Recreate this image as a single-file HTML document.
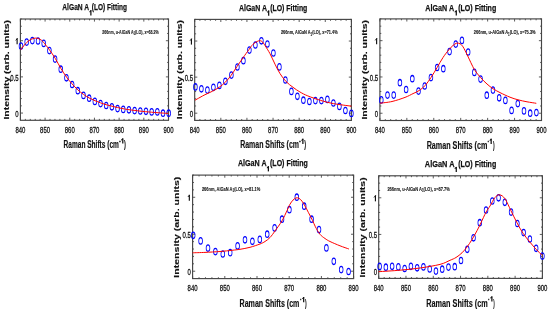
<!DOCTYPE html>
<html><head><meta charset="utf-8"><style>
html,body{margin:0;padding:0;background:#fff;}
body{width:550px;height:312px;overflow:hidden;}
svg{display:block;font-family:"Liberation Sans",sans-serif;will-change:transform;}
</style></head><body>
<svg width="550" height="312" viewBox="0 0 550 312" xmlns="http://www.w3.org/2000/svg">
<defs><filter id="bl" x="0" y="0" width="550" height="312" filterUnits="userSpaceOnUse"><feConvolveMatrix order="3" kernelMatrix="0.0400 0.1200 0.0400 0.1200 0.3600 0.1200 0.0400 0.1200 0.0400" edgeMode="duplicate"/></filter></defs>
<rect width="550" height="312" fill="#fff"/>
<g>
<path d="M20.4 120.3v-2.6M20.4 19v2.6M25.34 120.3v-1.4M25.34 19v1.4M30.27 120.3v-1.4M30.27 19v1.4M35.21 120.3v-1.4M35.21 19v1.4M40.15 120.3v-1.4M40.15 19v1.4M45.08 120.3v-2.6M45.08 19v2.6M50.02 120.3v-1.4M50.02 19v1.4M54.96 120.3v-1.4M54.96 19v1.4M59.89 120.3v-1.4M59.89 19v1.4M64.83 120.3v-1.4M64.83 19v1.4M69.77 120.3v-2.6M69.77 19v2.6M74.7 120.3v-1.4M74.7 19v1.4M79.64 120.3v-1.4M79.64 19v1.4M84.58 120.3v-1.4M84.58 19v1.4M89.51 120.3v-1.4M89.51 19v1.4M94.45 120.3v-2.6M94.45 19v2.6M99.39 120.3v-1.4M99.39 19v1.4M104.32 120.3v-1.4M104.32 19v1.4M109.26 120.3v-1.4M109.26 19v1.4M114.2 120.3v-1.4M114.2 19v1.4M119.13 120.3v-2.6M119.13 19v2.6M124.07 120.3v-1.4M124.07 19v1.4M129.01 120.3v-1.4M129.01 19v1.4M133.94 120.3v-1.4M133.94 19v1.4M138.88 120.3v-1.4M138.88 19v1.4M143.82 120.3v-2.6M143.82 19v2.6M148.75 120.3v-1.4M148.75 19v1.4M153.69 120.3v-1.4M153.69 19v1.4M158.63 120.3v-1.4M158.63 19v1.4M163.56 120.3v-1.4M163.56 19v1.4M168.5 120.3v-2.6M168.5 19v2.6M20.4 113.06h2.6M168.5 113.06h-2.6M20.4 105.83h1.4M168.5 105.83h-1.4M20.4 98.59h1.4M168.5 98.59h-1.4M20.4 91.36h1.4M168.5 91.36h-1.4M20.4 84.12h1.4M168.5 84.12h-1.4M20.4 76.89h2.6M168.5 76.89h-2.6M20.4 69.65h1.4M168.5 69.65h-1.4M20.4 62.41h1.4M168.5 62.41h-1.4M20.4 55.18h1.4M168.5 55.18h-1.4M20.4 47.94h1.4M168.5 47.94h-1.4M20.4 40.71h2.6M168.5 40.71h-2.6M20.4 33.47h1.4M168.5 33.47h-1.4M20.4 26.24h1.4M168.5 26.24h-1.4M20.4 19h1.4M168.5 19h-1.4" stroke="#333" stroke-width="0.8" fill="none"/>
<rect x="20.4" y="19" width="148.1" height="101.3" fill="none" stroke="#454545" stroke-width="1.15"/>
<g fill="none" stroke="#0000ff" stroke-width="1.3">
<circle r="3.2" transform="translate(21 46) scale(0.58 1)"/>
<circle r="3.2" transform="translate(26.68 42.1) scale(0.58 1)"/>
<circle r="3.2" transform="translate(32.36 40.6) scale(0.58 1)"/>
<circle r="3.2" transform="translate(38.04 41) scale(0.58 1)"/>
<circle r="3.2" transform="translate(43.72 43.4) scale(0.58 1)"/>
<circle r="3.2" transform="translate(49.4 50.6) scale(0.58 1)"/>
<circle r="3.2" transform="translate(55.08 59.1) scale(0.58 1)"/>
<circle r="3.2" transform="translate(60.77 69.2) scale(0.58 1)"/>
<circle r="3.2" transform="translate(66.45 77.8) scale(0.58 1)"/>
<circle r="3.2" transform="translate(72.13 84.5) scale(0.58 1)"/>
<circle r="3.2" transform="translate(77.81 90.7) scale(0.58 1)"/>
<circle r="3.2" transform="translate(83.49 95.4) scale(0.58 1)"/>
<circle r="3.2" transform="translate(89.17 98.2) scale(0.58 1)"/>
<circle r="3.2" transform="translate(94.85 101.4) scale(0.58 1)"/>
<circle r="3.2" transform="translate(100.53 103.6) scale(0.58 1)"/>
<circle r="3.2" transform="translate(106.21 105.5) scale(0.58 1)"/>
<circle r="3.2" transform="translate(111.89 106.8) scale(0.58 1)"/>
<circle r="3.2" transform="translate(117.57 108.6) scale(0.58 1)"/>
<circle r="3.2" transform="translate(123.25 109.4) scale(0.58 1)"/>
<circle r="3.2" transform="translate(128.93 109.8) scale(0.58 1)"/>
<circle r="3.2" transform="translate(134.62 110.6) scale(0.58 1)"/>
<circle r="3.2" transform="translate(140.3 111) scale(0.58 1)"/>
<circle r="3.2" transform="translate(145.98 111.3) scale(0.58 1)"/>
<circle r="3.2" transform="translate(151.66 111.9) scale(0.58 1)"/>
<circle r="3.2" transform="translate(157.34 111.9) scale(0.58 1)"/>
<circle r="3.2" transform="translate(163.02 113.2) scale(0.58 1)"/>
<circle r="3.2" transform="translate(168.7 113.2) scale(0.58 1)"/>
</g>
<path d="M20.5 50C21.37 48.92 24.12 45.17 25.7 43.5C27.28 41.83 28.4 40.9 30 40C31.6 39.1 33.63 38.22 35.3 38.1C36.97 37.98 38.63 38.6 40 39.3C41.37 40 41.93 40.55 43.5 42.3C45.07 44.05 47.45 47.13 49.4 49.8C51.35 52.47 53.3 55.22 55.2 58.3C57.1 61.38 58.92 65.18 60.8 68.3C62.68 71.42 64.63 74.42 66.5 77C68.37 79.58 70.12 81.67 72 83.8C73.88 85.93 75.88 88.03 77.8 89.8C79.72 91.57 81.63 93.05 83.5 94.4C85.37 95.75 87.08 96.85 89 97.9C90.92 98.95 93.07 99.87 95 100.7C96.93 101.53 98.77 102.23 100.6 102.9C102.43 103.57 104.1 104.15 106 104.7C107.9 105.25 110.07 105.72 112 106.2C113.93 106.68 115.77 107.18 117.6 107.6C119.43 108.02 121.1 108.35 123 108.7C124.9 109.05 126.17 109.3 129 109.7C131.83 110.1 136.25 110.68 140 111.1C143.75 111.52 146.75 111.8 151.5 112.2C156.25 112.6 165.67 113.28 168.5 113.5" stroke="#ff0000" stroke-width="1" fill="none" stroke-linejoin="round"/>
<text x="20.4" y="132.5" font-size="9.6" stroke="#111" stroke-width="0.3" fill="#111" text-anchor="middle" textLength="10" lengthAdjust="spacingAndGlyphs">840</text>
<text x="45.08" y="132.5" font-size="9.6" stroke="#111" stroke-width="0.3" fill="#111" text-anchor="middle" textLength="10" lengthAdjust="spacingAndGlyphs">850</text>
<text x="69.77" y="132.5" font-size="9.6" stroke="#111" stroke-width="0.3" fill="#111" text-anchor="middle" textLength="10" lengthAdjust="spacingAndGlyphs">860</text>
<text x="94.45" y="132.5" font-size="9.6" stroke="#111" stroke-width="0.3" fill="#111" text-anchor="middle" textLength="10" lengthAdjust="spacingAndGlyphs">870</text>
<text x="119.13" y="132.5" font-size="9.6" stroke="#111" stroke-width="0.3" fill="#111" text-anchor="middle" textLength="10" lengthAdjust="spacingAndGlyphs">880</text>
<text x="143.82" y="132.5" font-size="9.6" stroke="#111" stroke-width="0.3" fill="#111" text-anchor="middle" textLength="10" lengthAdjust="spacingAndGlyphs">890</text>
<text x="168.5" y="132.5" font-size="9.6" stroke="#111" stroke-width="0.3" fill="#111" text-anchor="middle" textLength="10" lengthAdjust="spacingAndGlyphs">900</text>
<text x="18.7" y="116.96" font-size="9.6" stroke="#111" stroke-width="0.3" fill="#111" text-anchor="end" textLength="3.33" lengthAdjust="spacingAndGlyphs">0</text>
<text x="18.7" y="80.79" font-size="9.6" stroke="#111" stroke-width="0.3" fill="#111" text-anchor="end" textLength="8.33" lengthAdjust="spacingAndGlyphs">0.5</text>
<path d="M17.12 38.26V44.26" stroke="#111" stroke-width="1.15" fill="none"/><path d="M17.12 38.75L16 40.06" stroke="#111" stroke-width="0.98" fill="none" stroke-linecap="round"/>
<text x="62.3" y="10.2" font-size="9.8" font-weight="bold" stroke="#111" stroke-width="0.25" fill="#111" textLength="26.8" lengthAdjust="spacingAndGlyphs">AlGaN A</text>
<path d="M90.88 10.2V15.4" stroke="#111" stroke-width="1.25" fill="none"/><path d="M90.88 10.73L89.8 11.76" stroke="#111" stroke-width="1.06" fill="none" stroke-linecap="round"/>
<text x="91.85" y="10.2" font-size="9.8" font-weight="bold" stroke="#111" stroke-width="0.25" fill="#111" textLength="35.06" lengthAdjust="spacingAndGlyphs">(LO) Fitting</text>
<text x="63.6" y="148.3" font-size="10.2" font-weight="bold" stroke="#111" stroke-width="0.15" fill="#111" textLength="55.31" lengthAdjust="spacingAndGlyphs">Raman Shifts (cm</text>
<text x="119.28" y="142.8" font-size="7.6" font-weight="bold" stroke="#111" stroke-width="0.5" fill="#111" textLength="1.33" lengthAdjust="spacingAndGlyphs">-</text>
<path d="M122.78 138.4V143.6" stroke="#111" stroke-width="1.25" fill="none"/><path d="M122.78 138.93L121.6 139.96" stroke="#111" stroke-width="1.06" fill="none" stroke-linecap="round"/>
<text x="124.09" y="148.3" font-size="10.2" font-weight="bold" stroke="#111" stroke-width="0.15" fill="#111" textLength="1.87" lengthAdjust="spacingAndGlyphs">)</text>
<text transform="translate(8.5 119.56) rotate(-90)" font-size="7.1" font-weight="bold" stroke="#111" stroke-width="0.12" fill="#111" textLength="99.46" lengthAdjust="spacingAndGlyphs">Intensity (arb. units)</text>
<text x="102.25" y="33.9" font-size="6" font-weight="bold" stroke="#111" stroke-width="0.1" fill="#111" textLength="56.45" lengthAdjust="spacingAndGlyphs">266nm, u-AlGaN A<tspan dy="1.5" font-size="4.5">1</tspan><tspan dy="-1.5">(LO), x=68.2%</tspan></text>
<path d="M194.7 120.4v-2.6M194.7 19.4v2.6M199.92 120.4v-1.4M199.92 19.4v1.4M205.15 120.4v-1.4M205.15 19.4v1.4M210.37 120.4v-1.4M210.37 19.4v1.4M215.59 120.4v-1.4M215.59 19.4v1.4M220.82 120.4v-2.6M220.82 19.4v2.6M226.04 120.4v-1.4M226.04 19.4v1.4M231.26 120.4v-1.4M231.26 19.4v1.4M236.49 120.4v-1.4M236.49 19.4v1.4M241.71 120.4v-1.4M241.71 19.4v1.4M246.93 120.4v-2.6M246.93 19.4v2.6M252.16 120.4v-1.4M252.16 19.4v1.4M257.38 120.4v-1.4M257.38 19.4v1.4M262.6 120.4v-1.4M262.6 19.4v1.4M267.83 120.4v-1.4M267.83 19.4v1.4M273.05 120.4v-2.6M273.05 19.4v2.6M278.27 120.4v-1.4M278.27 19.4v1.4M283.5 120.4v-1.4M283.5 19.4v1.4M288.72 120.4v-1.4M288.72 19.4v1.4M293.94 120.4v-1.4M293.94 19.4v1.4M299.17 120.4v-2.6M299.17 19.4v2.6M304.39 120.4v-1.4M304.39 19.4v1.4M309.61 120.4v-1.4M309.61 19.4v1.4M314.84 120.4v-1.4M314.84 19.4v1.4M320.06 120.4v-1.4M320.06 19.4v1.4M325.28 120.4v-2.6M325.28 19.4v2.6M330.51 120.4v-1.4M330.51 19.4v1.4M335.73 120.4v-1.4M335.73 19.4v1.4M340.95 120.4v-1.4M340.95 19.4v1.4M346.18 120.4v-1.4M346.18 19.4v1.4M351.4 120.4v-2.6M351.4 19.4v2.6M194.7 113.19h2.6M351.4 113.19h-2.6M194.7 105.97h1.4M351.4 105.97h-1.4M194.7 98.76h1.4M351.4 98.76h-1.4M194.7 91.54h1.4M351.4 91.54h-1.4M194.7 84.33h1.4M351.4 84.33h-1.4M194.7 77.11h2.6M351.4 77.11h-2.6M194.7 69.9h1.4M351.4 69.9h-1.4M194.7 62.69h1.4M351.4 62.69h-1.4M194.7 55.47h1.4M351.4 55.47h-1.4M194.7 48.26h1.4M351.4 48.26h-1.4M194.7 41.04h2.6M351.4 41.04h-2.6M194.7 33.83h1.4M351.4 33.83h-1.4M194.7 26.61h1.4M351.4 26.61h-1.4M194.7 19.4h1.4M351.4 19.4h-1.4" stroke="#333" stroke-width="0.8" fill="none"/>
<rect x="194.7" y="19.4" width="156.7" height="101" fill="none" stroke="#454545" stroke-width="1.15"/>
<g fill="none" stroke="#0000ff" stroke-width="1.3">
<circle r="3.2" transform="translate(195.4 86.9) scale(0.58 1)"/>
<circle r="3.2" transform="translate(201.4 88.8) scale(0.58 1)"/>
<circle r="3.2" transform="translate(207.4 90.1) scale(0.58 1)"/>
<circle r="3.2" transform="translate(213.4 87.3) scale(0.58 1)"/>
<circle r="3.2" transform="translate(219.4 85.4) scale(0.58 1)"/>
<circle r="3.2" transform="translate(225.4 81.3) scale(0.58 1)"/>
<circle r="3.2" transform="translate(231.4 75.1) scale(0.58 1)"/>
<circle r="3.2" transform="translate(237.4 67) scale(0.58 1)"/>
<circle r="3.2" transform="translate(243.4 60.7) scale(0.58 1)"/>
<circle r="3.2" transform="translate(249.4 50.1) scale(0.58 1)"/>
<circle r="3.2" transform="translate(255.4 45) scale(0.58 1)"/>
<circle r="3.2" transform="translate(261.4 40.8) scale(0.58 1)"/>
<circle r="3.2" transform="translate(267.4 44) scale(0.58 1)"/>
<circle r="3.2" transform="translate(273.4 53) scale(0.58 1)"/>
<circle r="3.2" transform="translate(279.4 66.9) scale(0.58 1)"/>
<circle r="3.2" transform="translate(285.4 80) scale(0.58 1)"/>
<circle r="3.2" transform="translate(291.4 91.4) scale(0.58 1)"/>
<circle r="3.2" transform="translate(297.4 96.3) scale(0.58 1)"/>
<circle r="3.2" transform="translate(303.4 100.2) scale(0.58 1)"/>
<circle r="3.2" transform="translate(309.4 101.5) scale(0.58 1)"/>
<circle r="3.2" transform="translate(315.4 100.6) scale(0.58 1)"/>
<circle r="3.2" transform="translate(321.4 100.6) scale(0.58 1)"/>
<circle r="3.2" transform="translate(327.4 99.4) scale(0.58 1)"/>
<circle r="3.2" transform="translate(333.4 103) scale(0.58 1)"/>
<circle r="3.2" transform="translate(339.4 106.4) scale(0.58 1)"/>
<circle r="3.2" transform="translate(345.4 110.5) scale(0.58 1)"/>
<circle r="3.2" transform="translate(351.4 113.4) scale(0.58 1)"/>
</g>
<path d="M195 100.2C195.83 99.73 198.33 98.32 200 97.4C201.67 96.48 202.92 95.73 205 94.7C207.08 93.67 210.12 92.45 212.5 91.2C214.88 89.95 217.12 88.75 219.3 87.2C221.48 85.65 223.65 83.85 225.6 81.9C227.55 79.95 229.1 78.07 231 75.5C232.9 72.93 235 69.45 237 66.5C239 63.55 241 60.63 243 57.8C245 54.97 247.33 51.75 249 49.5C250.67 47.25 251.42 45.73 253 44.3C254.58 42.87 257 41.37 258.5 40.9C260 40.43 260.92 40.73 262 41.5C263.08 42.27 263.67 43.47 265 45.5C266.33 47.53 268.33 50.58 270 53.7C271.67 56.82 273.33 60.88 275 64.2C276.67 67.52 278.17 70.72 280 73.6C281.83 76.48 283.83 79.22 286 81.5C288.17 83.78 290.67 85.55 293 87.3C295.33 89.05 297.53 90.57 300 92C302.47 93.43 304.37 94.5 307.8 95.9C311.23 97.3 316.32 99.12 320.6 100.4C324.88 101.68 328.37 102.63 333.5 103.6C338.63 104.57 348.42 105.77 351.4 106.2" stroke="#ff0000" stroke-width="1" fill="none" stroke-linejoin="round"/>
<text x="194.7" y="132.6" font-size="9.6" stroke="#111" stroke-width="0.3" fill="#111" text-anchor="middle" textLength="10" lengthAdjust="spacingAndGlyphs">840</text>
<text x="220.82" y="132.6" font-size="9.6" stroke="#111" stroke-width="0.3" fill="#111" text-anchor="middle" textLength="10" lengthAdjust="spacingAndGlyphs">850</text>
<text x="246.93" y="132.6" font-size="9.6" stroke="#111" stroke-width="0.3" fill="#111" text-anchor="middle" textLength="10" lengthAdjust="spacingAndGlyphs">860</text>
<text x="273.05" y="132.6" font-size="9.6" stroke="#111" stroke-width="0.3" fill="#111" text-anchor="middle" textLength="10" lengthAdjust="spacingAndGlyphs">870</text>
<text x="299.17" y="132.6" font-size="9.6" stroke="#111" stroke-width="0.3" fill="#111" text-anchor="middle" textLength="10" lengthAdjust="spacingAndGlyphs">880</text>
<text x="325.28" y="132.6" font-size="9.6" stroke="#111" stroke-width="0.3" fill="#111" text-anchor="middle" textLength="10" lengthAdjust="spacingAndGlyphs">890</text>
<text x="351.4" y="132.6" font-size="9.6" stroke="#111" stroke-width="0.3" fill="#111" text-anchor="middle" textLength="10" lengthAdjust="spacingAndGlyphs">900</text>
<text x="193" y="117.09" font-size="9.6" stroke="#111" stroke-width="0.3" fill="#111" text-anchor="end" textLength="3.33" lengthAdjust="spacingAndGlyphs">0</text>
<text x="193" y="81.01" font-size="9.6" stroke="#111" stroke-width="0.3" fill="#111" text-anchor="end" textLength="8.33" lengthAdjust="spacingAndGlyphs">0.5</text>
<path d="M191.43 38.59V44.59" stroke="#111" stroke-width="1.15" fill="none"/><path d="M191.43 39.08L190.3 40.39" stroke="#111" stroke-width="0.98" fill="none" stroke-linecap="round"/>
<text x="238.9" y="10.6" font-size="9.8" font-weight="bold" stroke="#111" stroke-width="0.25" fill="#111" textLength="28.11" lengthAdjust="spacingAndGlyphs">AlGaN A</text>
<path d="M268.67 10.5V15.7" stroke="#111" stroke-width="1.25" fill="none"/><path d="M268.67 11.03L267.5 12.06" stroke="#111" stroke-width="1.06" fill="none" stroke-linecap="round"/>
<text x="270.14" y="10.6" font-size="9.8" font-weight="bold" stroke="#111" stroke-width="0.25" fill="#111" textLength="37.22" lengthAdjust="spacingAndGlyphs">(LO) Fitting</text>
<text x="240.2" y="148.4" font-size="10.2" font-weight="bold" stroke="#111" stroke-width="0.15" fill="#111" textLength="58.81" lengthAdjust="spacingAndGlyphs">Raman Shifts (cm</text>
<text x="299.28" y="143.1" font-size="7.6" font-weight="bold" stroke="#111" stroke-width="0.5" fill="#111" textLength="1.33" lengthAdjust="spacingAndGlyphs">-</text>
<path d="M302.88 138.7V143.9" stroke="#111" stroke-width="1.25" fill="none"/><path d="M302.88 139.23L301.8 140.26" stroke="#111" stroke-width="1.06" fill="none" stroke-linecap="round"/>
<text x="304.3" y="148.4" font-size="10.2" font-weight="bold" stroke="#111" stroke-width="0.15" fill="#111" textLength="1.82" lengthAdjust="spacingAndGlyphs">)</text>
<text transform="translate(182.1 119.21) rotate(-90)" font-size="7.1" font-weight="bold" stroke="#111" stroke-width="0.12" fill="#111" textLength="99.11" lengthAdjust="spacingAndGlyphs">Intensity (arb. units)</text>
<text x="280.9" y="34" font-size="6" font-weight="bold" stroke="#111" stroke-width="0.1" fill="#111" textLength="56.7" lengthAdjust="spacingAndGlyphs">266nm, AlGaN A<tspan dy="1.5" font-size="4.5">1</tspan><tspan dy="-1.5">(LO), x=71.4%</tspan></text>
<path d="M379.9 120.5v-2.6M379.9 18.9v2.6M385.29 120.5v-1.4M385.29 18.9v1.4M390.67 120.5v-1.4M390.67 18.9v1.4M396.06 120.5v-1.4M396.06 18.9v1.4M401.45 120.5v-1.4M401.45 18.9v1.4M406.83 120.5v-2.6M406.83 18.9v2.6M412.22 120.5v-1.4M412.22 18.9v1.4M417.61 120.5v-1.4M417.61 18.9v1.4M422.99 120.5v-1.4M422.99 18.9v1.4M428.38 120.5v-1.4M428.38 18.9v1.4M433.77 120.5v-2.6M433.77 18.9v2.6M439.15 120.5v-1.4M439.15 18.9v1.4M444.54 120.5v-1.4M444.54 18.9v1.4M449.93 120.5v-1.4M449.93 18.9v1.4M455.31 120.5v-1.4M455.31 18.9v1.4M460.7 120.5v-2.6M460.7 18.9v2.6M466.09 120.5v-1.4M466.09 18.9v1.4M471.47 120.5v-1.4M471.47 18.9v1.4M476.86 120.5v-1.4M476.86 18.9v1.4M482.25 120.5v-1.4M482.25 18.9v1.4M487.63 120.5v-2.6M487.63 18.9v2.6M493.02 120.5v-1.4M493.02 18.9v1.4M498.41 120.5v-1.4M498.41 18.9v1.4M503.79 120.5v-1.4M503.79 18.9v1.4M509.18 120.5v-1.4M509.18 18.9v1.4M514.57 120.5v-2.6M514.57 18.9v2.6M519.95 120.5v-1.4M519.95 18.9v1.4M525.34 120.5v-1.4M525.34 18.9v1.4M530.73 120.5v-1.4M530.73 18.9v1.4M536.11 120.5v-1.4M536.11 18.9v1.4M541.5 120.5v-2.6M541.5 18.9v2.6M379.9 113.24h2.6M541.5 113.24h-2.6M379.9 105.99h1.4M541.5 105.99h-1.4M379.9 98.73h1.4M541.5 98.73h-1.4M379.9 91.47h1.4M541.5 91.47h-1.4M379.9 84.21h1.4M541.5 84.21h-1.4M379.9 76.96h2.6M541.5 76.96h-2.6M379.9 69.7h1.4M541.5 69.7h-1.4M379.9 62.44h1.4M541.5 62.44h-1.4M379.9 55.19h1.4M541.5 55.19h-1.4M379.9 47.93h1.4M541.5 47.93h-1.4M379.9 40.67h2.6M541.5 40.67h-2.6M379.9 33.41h1.4M541.5 33.41h-1.4M379.9 26.16h1.4M541.5 26.16h-1.4M379.9 18.9h1.4M541.5 18.9h-1.4" stroke="#333" stroke-width="0.8" fill="none"/>
<rect x="379.9" y="18.9" width="161.6" height="101.6" fill="none" stroke="#454545" stroke-width="1.15"/>
<g fill="none" stroke="#0000ff" stroke-width="1.3">
<circle r="3.2" transform="translate(381.3 99.9) scale(0.58 1)"/>
<circle r="3.2" transform="translate(387.5 95.1) scale(0.58 1)"/>
<circle r="3.2" transform="translate(393.71 95.1) scale(0.58 1)"/>
<circle r="3.2" transform="translate(399.91 82.7) scale(0.58 1)"/>
<circle r="3.2" transform="translate(406.12 89.5) scale(0.58 1)"/>
<circle r="3.2" transform="translate(412.32 78.7) scale(0.58 1)"/>
<circle r="3.2" transform="translate(418.52 91.1) scale(0.58 1)"/>
<circle r="3.2" transform="translate(424.73 86) scale(0.58 1)"/>
<circle r="3.2" transform="translate(430.93 77.6) scale(0.58 1)"/>
<circle r="3.2" transform="translate(437.14 67.5) scale(0.58 1)"/>
<circle r="3.2" transform="translate(443.34 68.7) scale(0.58 1)"/>
<circle r="3.2" transform="translate(449.54 51.6) scale(0.58 1)"/>
<circle r="3.2" transform="translate(455.75 44.1) scale(0.58 1)"/>
<circle r="3.2" transform="translate(461.95 40.4) scale(0.58 1)"/>
<circle r="3.2" transform="translate(468.16 52) scale(0.58 1)"/>
<circle r="3.2" transform="translate(474.36 72.4) scale(0.58 1)"/>
<circle r="3.2" transform="translate(480.56 79.1) scale(0.58 1)"/>
<circle r="3.2" transform="translate(486.77 95.2) scale(0.58 1)"/>
<circle r="3.2" transform="translate(492.97 90.1) scale(0.58 1)"/>
<circle r="3.2" transform="translate(499.18 97.8) scale(0.58 1)"/>
<circle r="3.2" transform="translate(505.38 100.4) scale(0.58 1)"/>
<circle r="3.2" transform="translate(511.58 110.4) scale(0.58 1)"/>
<circle r="3.2" transform="translate(517.79 103.6) scale(0.58 1)"/>
<circle r="3.2" transform="translate(523.99 110.9) scale(0.58 1)"/>
<circle r="3.2" transform="translate(530.2 113.2) scale(0.58 1)"/>
<circle r="3.2" transform="translate(536.4 112.6) scale(0.58 1)"/>
</g>
<path d="M380 103.2C382 102.92 387.83 102.47 392 101.5C396.17 100.53 401.5 98.72 405 97.4C408.5 96.08 410.67 94.73 413 93.6C415.33 92.47 417 91.93 419 90.6C421 89.27 423 87.78 425 85.6C427 83.42 429 80.48 431 77.5C433 74.52 435 71.03 437 67.7C439 64.37 441 60.52 443 57.5C445 54.48 447.33 51.6 449 49.6C450.67 47.6 451.73 46.57 453 45.5C454.27 44.43 455.43 43.48 456.6 43.2C457.77 42.92 458.93 43.2 460 43.8C461.07 44.4 461.83 45.02 463 46.8C464.17 48.58 465.5 51.47 467 54.5C468.5 57.53 470.67 62.33 472 65C473.33 67.67 473.58 68.42 475 70.5C476.42 72.58 478.5 75.25 480.5 77.5C482.5 79.75 484.92 82.13 487 84C489.08 85.87 490.83 87.27 493 88.7C495.17 90.13 497.17 91.18 500 92.6C502.83 94.02 507 96 510 97.2C513 98.4 515.17 99.03 518 99.8C520.83 100.57 523.95 101.22 527 101.8C530.05 102.38 534.75 103.05 536.3 103.3" stroke="#ff0000" stroke-width="1" fill="none" stroke-linejoin="round"/>
<text x="379.9" y="132.7" font-size="9.6" stroke="#111" stroke-width="0.3" fill="#111" text-anchor="middle" textLength="10" lengthAdjust="spacingAndGlyphs">840</text>
<text x="406.83" y="132.7" font-size="9.6" stroke="#111" stroke-width="0.3" fill="#111" text-anchor="middle" textLength="10" lengthAdjust="spacingAndGlyphs">850</text>
<text x="433.77" y="132.7" font-size="9.6" stroke="#111" stroke-width="0.3" fill="#111" text-anchor="middle" textLength="10" lengthAdjust="spacingAndGlyphs">860</text>
<text x="460.7" y="132.7" font-size="9.6" stroke="#111" stroke-width="0.3" fill="#111" text-anchor="middle" textLength="10" lengthAdjust="spacingAndGlyphs">870</text>
<text x="487.63" y="132.7" font-size="9.6" stroke="#111" stroke-width="0.3" fill="#111" text-anchor="middle" textLength="10" lengthAdjust="spacingAndGlyphs">880</text>
<text x="514.57" y="132.7" font-size="9.6" stroke="#111" stroke-width="0.3" fill="#111" text-anchor="middle" textLength="10" lengthAdjust="spacingAndGlyphs">890</text>
<text x="541.5" y="132.7" font-size="9.6" stroke="#111" stroke-width="0.3" fill="#111" text-anchor="middle" textLength="10" lengthAdjust="spacingAndGlyphs">900</text>
<text x="378.2" y="117.14" font-size="9.6" stroke="#111" stroke-width="0.3" fill="#111" text-anchor="end" textLength="3.33" lengthAdjust="spacingAndGlyphs">0</text>
<text x="378.2" y="80.86" font-size="9.6" stroke="#111" stroke-width="0.3" fill="#111" text-anchor="end" textLength="8.33" lengthAdjust="spacingAndGlyphs">0.5</text>
<path d="M376.62 38.22V44.22" stroke="#111" stroke-width="1.15" fill="none"/><path d="M376.62 38.71L375.5 40.02" stroke="#111" stroke-width="0.98" fill="none" stroke-linecap="round"/>
<text x="425.35" y="10.5" font-size="9.8" font-weight="bold" stroke="#111" stroke-width="0.25" fill="#111" textLength="28.7" lengthAdjust="spacingAndGlyphs">AlGaN A</text>
<path d="M456.27 10.4V15.6" stroke="#111" stroke-width="1.25" fill="none"/><path d="M456.27 10.93L455.1 11.96" stroke="#111" stroke-width="1.06" fill="none" stroke-linecap="round"/>
<text x="458.14" y="10.5" font-size="9.8" font-weight="bold" stroke="#111" stroke-width="0.25" fill="#111" textLength="38.12" lengthAdjust="spacingAndGlyphs">(LO) Fitting</text>
<text x="426.64" y="148.5" font-size="10.2" font-weight="bold" stroke="#111" stroke-width="0.15" fill="#111" textLength="60.76" lengthAdjust="spacingAndGlyphs">Raman Shifts (cm</text>
<text x="487.69" y="143.1" font-size="7.6" font-weight="bold" stroke="#111" stroke-width="0.5" fill="#111" textLength="1.06" lengthAdjust="spacingAndGlyphs">-</text>
<path d="M491.17 138.7V143.9" stroke="#111" stroke-width="1.25" fill="none"/><path d="M491.17 139.23L490.1 140.26" stroke="#111" stroke-width="1.06" fill="none" stroke-linecap="round"/>
<text x="493.06" y="148.5" font-size="10.2" font-weight="bold" stroke="#111" stroke-width="0.15" fill="#111" textLength="1.64" lengthAdjust="spacingAndGlyphs">)</text>
<text transform="translate(366.7 119.56) rotate(-90)" font-size="7.1" font-weight="bold" stroke="#111" stroke-width="0.12" fill="#111" textLength="99.46" lengthAdjust="spacingAndGlyphs">Intensity (arb. units)</text>
<text x="473.85" y="34" font-size="6" font-weight="bold" stroke="#111" stroke-width="0.1" fill="#111" textLength="61.75" lengthAdjust="spacingAndGlyphs">266nm, u-AlGaN A<tspan dy="1.5" font-size="4.5">1</tspan><tspan dy="-1.5">(LO), x=75.3%</tspan></text>
<path d="M192.6 278.6v-2.6M192.6 175.1v2.6M199.04 278.6v-1.4M199.04 175.1v1.4M205.48 278.6v-1.4M205.48 175.1v1.4M211.92 278.6v-1.4M211.92 175.1v1.4M218.36 278.6v-1.4M218.36 175.1v1.4M224.8 278.6v-2.6M224.8 175.1v2.6M231.24 278.6v-1.4M231.24 175.1v1.4M237.68 278.6v-1.4M237.68 175.1v1.4M244.12 278.6v-1.4M244.12 175.1v1.4M250.56 278.6v-1.4M250.56 175.1v1.4M257 278.6v-2.6M257 175.1v2.6M263.44 278.6v-1.4M263.44 175.1v1.4M269.88 278.6v-1.4M269.88 175.1v1.4M276.32 278.6v-1.4M276.32 175.1v1.4M282.76 278.6v-1.4M282.76 175.1v1.4M289.2 278.6v-2.6M289.2 175.1v2.6M295.64 278.6v-1.4M295.64 175.1v1.4M302.08 278.6v-1.4M302.08 175.1v1.4M308.52 278.6v-1.4M308.52 175.1v1.4M314.96 278.6v-1.4M314.96 175.1v1.4M321.4 278.6v-2.6M321.4 175.1v2.6M327.84 278.6v-1.4M327.84 175.1v1.4M334.28 278.6v-1.4M334.28 175.1v1.4M340.72 278.6v-1.4M340.72 175.1v1.4M347.16 278.6v-1.4M347.16 175.1v1.4M353.6 278.6v-2.6M353.6 175.1v2.6M192.6 271.21h2.6M353.6 271.21h-2.6M192.6 263.81h1.4M353.6 263.81h-1.4M192.6 256.42h1.4M353.6 256.42h-1.4M192.6 249.03h1.4M353.6 249.03h-1.4M192.6 241.64h1.4M353.6 241.64h-1.4M192.6 234.24h2.6M353.6 234.24h-2.6M192.6 226.85h1.4M353.6 226.85h-1.4M192.6 219.46h1.4M353.6 219.46h-1.4M192.6 212.06h1.4M353.6 212.06h-1.4M192.6 204.67h1.4M353.6 204.67h-1.4M192.6 197.28h2.6M353.6 197.28h-2.6M192.6 189.89h1.4M353.6 189.89h-1.4M192.6 182.49h1.4M353.6 182.49h-1.4M192.6 175.1h1.4M353.6 175.1h-1.4" stroke="#333" stroke-width="0.8" fill="none"/>
<rect x="192.6" y="175.1" width="161" height="103.5" fill="none" stroke="#454545" stroke-width="1.15"/>
<g fill="none" stroke="#0000ff" stroke-width="1.3">
<circle r="3.2" transform="translate(193.2 235.3) scale(0.58 1)"/>
<circle r="3.2" transform="translate(200.6 240.9) scale(0.58 1)"/>
<circle r="3.2" transform="translate(208 248.1) scale(0.58 1)"/>
<circle r="3.2" transform="translate(215.4 251.6) scale(0.58 1)"/>
<circle r="3.2" transform="translate(222.8 254) scale(0.58 1)"/>
<circle r="3.2" transform="translate(230.2 252.7) scale(0.58 1)"/>
<circle r="3.2" transform="translate(237.6 245.9) scale(0.58 1)"/>
<circle r="3.2" transform="translate(245 239.8) scale(0.58 1)"/>
<circle r="3.2" transform="translate(252.4 241.3) scale(0.58 1)"/>
<circle r="3.2" transform="translate(259.8 239.4) scale(0.58 1)"/>
<circle r="3.2" transform="translate(267.2 234.2) scale(0.58 1)"/>
<circle r="3.2" transform="translate(274.6 227.9) scale(0.58 1)"/>
<circle r="3.2" transform="translate(282 219.2) scale(0.58 1)"/>
<circle r="3.2" transform="translate(289.4 209.7) scale(0.58 1)"/>
<circle r="3.2" transform="translate(296.8 197.2) scale(0.58 1)"/>
<circle r="3.2" transform="translate(304.2 206.2) scale(0.58 1)"/>
<circle r="3.2" transform="translate(311.6 219.2) scale(0.58 1)"/>
<circle r="3.2" transform="translate(319 229.6) scale(0.58 1)"/>
<circle r="3.2" transform="translate(326.4 247.9) scale(0.58 1)"/>
<circle r="3.2" transform="translate(333.8 261.3) scale(0.58 1)"/>
<circle r="3.2" transform="translate(341.2 269.6) scale(0.58 1)"/>
<circle r="3.2" transform="translate(348.6 271.5) scale(0.58 1)"/>
</g>
<path d="M192.6 252.8C194.67 252.73 200.43 252.62 205 252.4C209.57 252.18 215.5 251.85 220 251.5C224.5 251.15 228.67 250.67 232 250.3C235.33 249.93 237 249.8 240 249.3C243 248.8 246.67 248.18 250 247.3C253.33 246.42 257.5 244.97 260 244C262.5 243.03 263.33 242.58 265 241.5C266.67 240.42 268.33 239.25 270 237.5C271.67 235.75 273 233.78 275 231C277 228.22 280 224.2 282 220.8C284 217.4 285.67 213.37 287 210.6C288.33 207.83 289 205.95 290 204.2C291 202.45 292 201.15 293 200.1C294 199.05 295 198.2 296 197.9C297 197.6 298 197.75 299 198.3C300 198.85 301 199.92 302 201.2C303 202.48 303.95 204.15 305 206C306.05 207.85 307.03 209.88 308.3 212.3C309.57 214.72 311.42 218.08 312.6 220.5C313.78 222.92 314.17 224.5 315.4 226.8C316.63 229.1 318.4 232.35 320 234.3C321.6 236.25 323.33 237.3 325 238.5C326.67 239.7 327.5 240.28 330 241.5C332.5 242.72 336.85 244.55 340 245.8C343.15 247.05 347.42 248.47 348.9 249" stroke="#ff0000" stroke-width="1" fill="none" stroke-linejoin="round"/>
<text x="192.6" y="290.8" font-size="9.6" stroke="#111" stroke-width="0.3" fill="#111" text-anchor="middle" textLength="10" lengthAdjust="spacingAndGlyphs">840</text>
<text x="224.8" y="290.8" font-size="9.6" stroke="#111" stroke-width="0.3" fill="#111" text-anchor="middle" textLength="10" lengthAdjust="spacingAndGlyphs">850</text>
<text x="257" y="290.8" font-size="9.6" stroke="#111" stroke-width="0.3" fill="#111" text-anchor="middle" textLength="10" lengthAdjust="spacingAndGlyphs">860</text>
<text x="289.2" y="290.8" font-size="9.6" stroke="#111" stroke-width="0.3" fill="#111" text-anchor="middle" textLength="10" lengthAdjust="spacingAndGlyphs">870</text>
<text x="321.4" y="290.8" font-size="9.6" stroke="#111" stroke-width="0.3" fill="#111" text-anchor="middle" textLength="10" lengthAdjust="spacingAndGlyphs">880</text>
<text x="353.6" y="290.8" font-size="9.6" stroke="#111" stroke-width="0.3" fill="#111" text-anchor="middle" textLength="10" lengthAdjust="spacingAndGlyphs">890</text>
<text x="190.9" y="275.11" font-size="9.6" stroke="#111" stroke-width="0.3" fill="#111" text-anchor="end" textLength="3.33" lengthAdjust="spacingAndGlyphs">0</text>
<text x="190.9" y="238.14" font-size="9.6" stroke="#111" stroke-width="0.3" fill="#111" text-anchor="end" textLength="8.33" lengthAdjust="spacingAndGlyphs">0.5</text>
<path d="M189.33 194.83V200.83" stroke="#111" stroke-width="1.15" fill="none"/><path d="M189.33 195.32L188.2 196.63" stroke="#111" stroke-width="0.98" fill="none" stroke-linecap="round"/>
<text x="237.95" y="166.3" font-size="9.8" font-weight="bold" stroke="#111" stroke-width="0.25" fill="#111" textLength="28.6" lengthAdjust="spacingAndGlyphs">AlGaN A</text>
<path d="M268.38 166.2V171.4" stroke="#111" stroke-width="1.25" fill="none"/><path d="M268.38 166.73L267.3 167.76" stroke="#111" stroke-width="1.06" fill="none" stroke-linecap="round"/>
<text x="270.04" y="166.3" font-size="9.8" font-weight="bold" stroke="#111" stroke-width="0.25" fill="#111" textLength="37.82" lengthAdjust="spacingAndGlyphs">(LO) Fitting</text>
<text x="239.55" y="307.4" font-size="10.2" font-weight="bold" stroke="#111" stroke-width="0.15" fill="#111" textLength="59.86" lengthAdjust="spacingAndGlyphs">Raman Shifts (cm</text>
<text x="300.28" y="301.4" font-size="7.6" font-weight="bold" stroke="#111" stroke-width="0.5" fill="#111" textLength="0.97" lengthAdjust="spacingAndGlyphs">-</text>
<path d="M303.67 297V302.2" stroke="#111" stroke-width="1.25" fill="none"/><path d="M303.67 297.53L302.7 298.56" stroke="#111" stroke-width="1.06" fill="none" stroke-linecap="round"/>
<text x="305.06" y="307.4" font-size="10.2" font-weight="bold" stroke="#111" stroke-width="0.15" fill="#111" textLength="1.64" lengthAdjust="spacingAndGlyphs">)</text>
<text transform="translate(179.2 277.66) rotate(-90)" font-size="7.1" font-weight="bold" stroke="#111" stroke-width="0.12" fill="#111" textLength="100.96" lengthAdjust="spacingAndGlyphs">Intensity (arb. units)</text>
<text x="201.9" y="190.5" font-size="6" font-weight="bold" stroke="#111" stroke-width="0.1" fill="#111" textLength="58.4" lengthAdjust="spacingAndGlyphs">266nm, AlGaN A<tspan dy="1.5" font-size="4.5">1</tspan><tspan dy="-1.5">(LO), x=81.1%</tspan></text>
<path d="M378.7 278.4v-2.6M378.7 175.8v2.6M384.16 278.4v-1.4M384.16 175.8v1.4M389.61 278.4v-1.4M389.61 175.8v1.4M395.07 278.4v-1.4M395.07 175.8v1.4M400.53 278.4v-1.4M400.53 175.8v1.4M405.98 278.4v-2.6M405.98 175.8v2.6M411.44 278.4v-1.4M411.44 175.8v1.4M416.9 278.4v-1.4M416.9 175.8v1.4M422.35 278.4v-1.4M422.35 175.8v1.4M427.81 278.4v-1.4M427.81 175.8v1.4M433.27 278.4v-2.6M433.27 175.8v2.6M438.72 278.4v-1.4M438.72 175.8v1.4M444.18 278.4v-1.4M444.18 175.8v1.4M449.64 278.4v-1.4M449.64 175.8v1.4M455.09 278.4v-1.4M455.09 175.8v1.4M460.55 278.4v-2.6M460.55 175.8v2.6M466.01 278.4v-1.4M466.01 175.8v1.4M471.46 278.4v-1.4M471.46 175.8v1.4M476.92 278.4v-1.4M476.92 175.8v1.4M482.38 278.4v-1.4M482.38 175.8v1.4M487.83 278.4v-2.6M487.83 175.8v2.6M493.29 278.4v-1.4M493.29 175.8v1.4M498.75 278.4v-1.4M498.75 175.8v1.4M504.2 278.4v-1.4M504.2 175.8v1.4M509.66 278.4v-1.4M509.66 175.8v1.4M515.12 278.4v-2.6M515.12 175.8v2.6M520.57 278.4v-1.4M520.57 175.8v1.4M526.03 278.4v-1.4M526.03 175.8v1.4M531.49 278.4v-1.4M531.49 175.8v1.4M536.94 278.4v-1.4M536.94 175.8v1.4M542.4 278.4v-2.6M542.4 175.8v2.6M378.7 271.07h2.6M542.4 271.07h-2.6M378.7 263.74h1.4M542.4 263.74h-1.4M378.7 256.41h1.4M542.4 256.41h-1.4M378.7 249.09h1.4M542.4 249.09h-1.4M378.7 241.76h1.4M542.4 241.76h-1.4M378.7 234.43h2.6M542.4 234.43h-2.6M378.7 227.1h1.4M542.4 227.1h-1.4M378.7 219.77h1.4M542.4 219.77h-1.4M378.7 212.44h1.4M542.4 212.44h-1.4M378.7 205.11h1.4M542.4 205.11h-1.4M378.7 197.79h2.6M542.4 197.79h-2.6M378.7 190.46h1.4M542.4 190.46h-1.4M378.7 183.13h1.4M542.4 183.13h-1.4M378.7 175.8h1.4M542.4 175.8h-1.4" stroke="#333" stroke-width="0.8" fill="none"/>
<rect x="378.7" y="175.8" width="163.7" height="102.6" fill="none" stroke="#454545" stroke-width="1.15"/>
<g fill="none" stroke="#0000ff" stroke-width="1.3">
<circle r="3.2" transform="translate(379.6 266.4) scale(0.58 1)"/>
<circle r="3.2" transform="translate(385.86 267.2) scale(0.58 1)"/>
<circle r="3.2" transform="translate(392.12 266.3) scale(0.58 1)"/>
<circle r="3.2" transform="translate(398.38 266.9) scale(0.58 1)"/>
<circle r="3.2" transform="translate(404.65 268.5) scale(0.58 1)"/>
<circle r="3.2" transform="translate(410.91 266.3) scale(0.58 1)"/>
<circle r="3.2" transform="translate(417.17 267.8) scale(0.58 1)"/>
<circle r="3.2" transform="translate(423.43 266.9) scale(0.58 1)"/>
<circle r="3.2" transform="translate(429.69 269) scale(0.58 1)"/>
<circle r="3.2" transform="translate(435.95 271.1) scale(0.58 1)"/>
<circle r="3.2" transform="translate(442.22 269.2) scale(0.58 1)"/>
<circle r="3.2" transform="translate(448.48 267.1) scale(0.58 1)"/>
<circle r="3.2" transform="translate(454.74 266.7) scale(0.58 1)"/>
<circle r="3.2" transform="translate(461 260.5) scale(0.58 1)"/>
<circle r="3.2" transform="translate(467.26 249.3) scale(0.58 1)"/>
<circle r="3.2" transform="translate(473.52 237.8) scale(0.58 1)"/>
<circle r="3.2" transform="translate(479.78 222.7) scale(0.58 1)"/>
<circle r="3.2" transform="translate(486.05 210) scale(0.58 1)"/>
<circle r="3.2" transform="translate(492.31 201) scale(0.58 1)"/>
<circle r="3.2" transform="translate(498.57 197.8) scale(0.58 1)"/>
<circle r="3.2" transform="translate(504.83 202.3) scale(0.58 1)"/>
<circle r="3.2" transform="translate(511.09 212.1) scale(0.58 1)"/>
<circle r="3.2" transform="translate(517.35 223.5) scale(0.58 1)"/>
<circle r="3.2" transform="translate(523.62 232.6) scale(0.58 1)"/>
<circle r="3.2" transform="translate(529.88 239) scale(0.58 1)"/>
<circle r="3.2" transform="translate(536.14 248.3) scale(0.58 1)"/>
<circle r="3.2" transform="translate(542.4 256.1) scale(0.58 1)"/>
</g>
<path d="M378.6 271.7C382.17 271.45 393.1 270.82 400 270.2C406.9 269.58 413.33 268.97 420 268C426.67 267.03 435 265.68 440 264.4C445 263.12 447.33 261.45 450 260.3C452.67 259.15 454 258.75 456 257.5C458 256.25 460.17 254.55 462 252.8C463.83 251.05 465.33 249.22 467 247C468.67 244.78 470.33 242.22 472 239.5C473.67 236.78 475.5 233.5 477 230.7C478.5 227.9 479.5 225.78 481 222.7C482.5 219.62 484.5 214.98 486 212.2C487.5 209.42 488.5 208.45 490 206C491.5 203.55 493.4 199.37 495 197.5C496.6 195.63 497.93 194.58 499.6 194.8C501.27 195.02 503.1 196.13 505 198.8C506.9 201.47 509 206.8 511 210.8C513 214.8 515 219.07 517 222.8C519 226.53 520.83 229.97 523 233.2C525.17 236.43 527.83 239.53 530 242.2C532.17 244.87 533.93 246.98 536 249.2C538.07 251.42 541.33 254.45 542.4 255.5" stroke="#ff0000" stroke-width="1" fill="none" stroke-linejoin="round"/>
<text x="378.7" y="290.6" font-size="9.6" stroke="#111" stroke-width="0.3" fill="#111" text-anchor="middle" textLength="10" lengthAdjust="spacingAndGlyphs">840</text>
<text x="405.98" y="290.6" font-size="9.6" stroke="#111" stroke-width="0.3" fill="#111" text-anchor="middle" textLength="10" lengthAdjust="spacingAndGlyphs">850</text>
<text x="433.27" y="290.6" font-size="9.6" stroke="#111" stroke-width="0.3" fill="#111" text-anchor="middle" textLength="10" lengthAdjust="spacingAndGlyphs">860</text>
<text x="460.55" y="290.6" font-size="9.6" stroke="#111" stroke-width="0.3" fill="#111" text-anchor="middle" textLength="10" lengthAdjust="spacingAndGlyphs">870</text>
<text x="487.83" y="290.6" font-size="9.6" stroke="#111" stroke-width="0.3" fill="#111" text-anchor="middle" textLength="10" lengthAdjust="spacingAndGlyphs">880</text>
<text x="515.12" y="290.6" font-size="9.6" stroke="#111" stroke-width="0.3" fill="#111" text-anchor="middle" textLength="10" lengthAdjust="spacingAndGlyphs">890</text>
<text x="542.4" y="290.6" font-size="9.6" stroke="#111" stroke-width="0.3" fill="#111" text-anchor="middle" textLength="10" lengthAdjust="spacingAndGlyphs">900</text>
<text x="377" y="274.97" font-size="9.6" stroke="#111" stroke-width="0.3" fill="#111" text-anchor="end" textLength="3.33" lengthAdjust="spacingAndGlyphs">0</text>
<text x="377" y="238.33" font-size="9.6" stroke="#111" stroke-width="0.3" fill="#111" text-anchor="end" textLength="8.33" lengthAdjust="spacingAndGlyphs">0.5</text>
<path d="M375.43 195.34V201.34" stroke="#111" stroke-width="1.15" fill="none"/><path d="M375.43 195.82L374.3 197.14" stroke="#111" stroke-width="0.98" fill="none" stroke-linecap="round"/>
<text x="424.85" y="167" font-size="9.8" font-weight="bold" stroke="#111" stroke-width="0.25" fill="#111" textLength="29.65" lengthAdjust="spacingAndGlyphs">AlGaN A</text>
<path d="M456.27 166.9V172.1" stroke="#111" stroke-width="1.25" fill="none"/><path d="M456.27 167.43L455.1 168.46" stroke="#111" stroke-width="1.06" fill="none" stroke-linecap="round"/>
<text x="458.14" y="167" font-size="9.8" font-weight="bold" stroke="#111" stroke-width="0.25" fill="#111" textLength="38.12" lengthAdjust="spacingAndGlyphs">(LO) Fitting</text>
<text x="426.19" y="306.7" font-size="10.2" font-weight="bold" stroke="#111" stroke-width="0.15" fill="#111" textLength="61.61" lengthAdjust="spacingAndGlyphs">Raman Shifts (cm</text>
<text x="488.28" y="300.8" font-size="7.6" font-weight="bold" stroke="#111" stroke-width="0.5" fill="#111" textLength="0.97" lengthAdjust="spacingAndGlyphs">-</text>
<path d="M491.88 296.4V301.6" stroke="#111" stroke-width="1.25" fill="none"/><path d="M491.88 296.93L490.8 297.96" stroke="#111" stroke-width="1.06" fill="none" stroke-linecap="round"/>
<text x="493.25" y="306.7" font-size="10.2" font-weight="bold" stroke="#111" stroke-width="0.15" fill="#111" textLength="1.46" lengthAdjust="spacingAndGlyphs">)</text>
<text transform="translate(365.4 277.56) rotate(-90)" font-size="7.1" font-weight="bold" stroke="#111" stroke-width="0.12" fill="#111" textLength="100.26" lengthAdjust="spacingAndGlyphs">Intensity (arb. units)</text>
<text x="387.4" y="190.6" font-size="6" font-weight="bold" stroke="#111" stroke-width="0.1" fill="#111" textLength="62.35" lengthAdjust="spacingAndGlyphs">266nm, u-AlGaN A<tspan dy="1.5" font-size="4.5">1</tspan><tspan dy="-1.5">(LO), x=87.7%</tspan></text>
</g>
</svg>
</body></html>
